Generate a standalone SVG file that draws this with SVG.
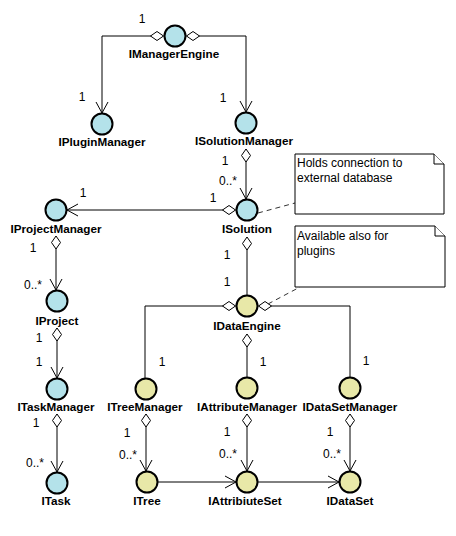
<svg xmlns="http://www.w3.org/2000/svg" width="456" height="536" viewBox="0 0 456 536">
<style>
.b{fill:#b4e2ea;stroke:#000;stroke-width:2}
.y{fill:#e8e8a8;stroke:#000;stroke-width:2}
.lbl{font-family:"Liberation Sans",Arial,sans-serif;font-size:11.7px;font-weight:bold;text-anchor:middle;fill:#000}
.m{font-family:"Liberation Sans",Arial,sans-serif;font-size:12px;text-anchor:middle;fill:#000}
.nt{font-family:"Liberation Sans",Arial,sans-serif;font-size:12px;fill:#000}
.c{fill:none;stroke:#000;stroke-width:1}
.d{fill:none;stroke:#333;stroke-width:1;stroke-dasharray:5,4}
.note{fill:#fff;stroke:#000;stroke-width:1}
</style>
<defs>
<marker id="dia" markerUnits="userSpaceOnUse" orient="auto" refX="0" refY="0" markerWidth="1" markerHeight="1" overflow="visible">
<path d="M0,0 L6.5,-4.5 L13,0 L6.5,4.5 Z" fill="#fff" stroke="#000" stroke-width="1"/>
</marker>
<marker id="arr" markerUnits="userSpaceOnUse" orient="auto" refX="0" refY="0" markerWidth="1" markerHeight="1" overflow="visible">
<path d="M-11,-6 L0,0 L-11,6" fill="none" stroke="#000" stroke-width="1"/>
</marker>
</defs>
<g id="connectors">
<path class="c" d="M163.5,36 L102,36 L102,113" marker-start="url(#dia)" marker-end="url(#arr)"/>
<path class="c" d="M186.5,36 L246,36 L246,112" marker-start="url(#dia)" marker-end="url(#arr)"/>
<path class="c" d="M246,149 L246,199" marker-start="url(#dia)" marker-end="url(#arr)"/>
<path class="c" d="M235.5,210 L67,210" marker-start="url(#dia)" marker-end="url(#arr)"/>
<path class="c" d="M56,236 L56,290" marker-start="url(#dia)" marker-end="url(#arr)"/>
<path class="c" d="M57,328 L57,378" marker-start="url(#dia)" marker-end="url(#arr)"/>
<path class="c" d="M57,414 L57,472" marker-start="url(#dia)" marker-end="url(#arr)"/>
<path class="c" d="M247,237 L247,295" marker-start="url(#dia)"/>
<path class="c" d="M235.5,306 L145,306 L145,378" marker-start="url(#dia)"/>
<path class="c" d="M247,334 L247,377" marker-start="url(#dia)"/>
<path class="c" d="M258.5,306 L350,306 L350,377" marker-start="url(#dia)"/>
<path class="c" d="M146,414 L146,471" marker-start="url(#dia)" marker-end="url(#arr)"/>
<path class="c" d="M247,414 L247,471" marker-start="url(#dia)" marker-end="url(#arr)"/>
<path class="c" d="M350,414 L350,471" marker-start="url(#dia)" marker-end="url(#arr)"/>
<path class="c" d="M158,482 L236,482" marker-end="url(#arr)"/>
<path class="c" d="M258,482 L339,482" marker-end="url(#arr)"/>
<path class="d" d="M258,213 L295,203"/>
<path class="d" d="M268,304 L300,287"/>
</g>
<g id="note1">
<path class="note" d="M295,154 L434,154 L444,164 L444,214 L295,214 Z"/>
<path class="note" d="M434,154 L434,164 L444,164"/>
<text class="nt" x="297" y="167">Holds connection to</text>
<text class="nt" x="297" y="182">external database</text>
</g>
<g id="note2">
<path class="note" d="M295,226 L435,226 L445,236 L445,287 L295,287 Z"/>
<path class="note" d="M435,226 L435,236 L445,236"/>
<text class="nt" x="297" y="240">Available also for</text>
<text class="nt" x="297" y="255">plugins</text>
</g>
<g id="IManagerEngine"><circle class="b" cx="175" cy="36" r="10.5"/><text class="lbl" x="174" y="58">IManagerEngine</text></g>
<g id="IPluginManager"><circle class="b" cx="102" cy="124" r="10.5"/><text class="lbl" x="102" y="146">IPluginManager</text></g>
<g id="ISolutionManager"><circle class="b" cx="246" cy="123" r="10.5"/><text class="lbl" x="244" y="145">ISolutionManager</text></g>
<g id="ISolution"><circle class="b" cx="247" cy="210" r="10.5"/><text class="lbl" x="247" y="233">ISolution</text></g>
<g id="IProjectManager"><circle class="b" cx="56" cy="210" r="10.5"/><text class="lbl" x="56" y="233">IProjectManager</text></g>
<g id="IProject"><circle class="b" cx="57" cy="301" r="10.5"/><text class="lbl" x="57" y="325">IProject</text></g>
<g id="ITaskManager"><circle class="b" cx="57" cy="389" r="10.5"/><text class="lbl" x="56" y="411">ITaskManager</text></g>
<g id="ITask"><circle class="b" cx="57" cy="483" r="10.5"/><text class="lbl" x="56" y="505">ITask</text></g>
<g id="IDataEngine"><circle class="y" cx="247" cy="306" r="10.5"/><text class="lbl" x="247" y="330">IDataEngine</text></g>
<g id="ITreeManager"><circle class="y" cx="146" cy="389" r="10.5"/><text class="lbl" x="145" y="411">ITreeManager</text></g>
<g id="IAttributeManager"><circle class="y" cx="247" cy="388" r="10.5"/><text class="lbl" x="247" y="411">IAttributeManager</text></g>
<g id="IDataSetManager"><circle class="y" cx="350" cy="388" r="10.5"/><text class="lbl" x="350" y="411">IDataSetManager</text></g>
<g id="ITree"><circle class="y" cx="147" cy="482" r="10.5"/><text class="lbl" x="147" y="505">ITree</text></g>
<g id="IAttribiuteSet"><circle class="y" cx="247" cy="482" r="10.5"/><text class="lbl" x="245" y="505">IAttribiuteSet</text></g>
<g id="IDataSet"><circle class="y" cx="350" cy="482" r="10.5"/><text class="lbl" x="350" y="505">IDataSet</text></g>
<g id="multiplicities">
<text class="m" x="142" y="23">1</text>
<text class="m" x="82" y="101">1</text>
<text class="m" x="223" y="102">1</text>
<text class="m" x="225" y="165">1</text>
<text class="m" x="228" y="185">0..*</text>
<text class="m" x="213" y="202">1</text>
<text class="m" x="83" y="197">1</text>
<text class="m" x="33" y="252">1</text>
<text class="m" x="33" y="289">0..*</text>
<text class="m" x="227" y="259">1</text>
<text class="m" x="227" y="286">1</text>
<text class="m" x="39" y="342">1</text>
<text class="m" x="39" y="366">1</text>
<text class="m" x="36" y="427">1</text>
<text class="m" x="35" y="467">0..*</text>
<text class="m" x="162" y="366">1</text>
<text class="m" x="263" y="366">1</text>
<text class="m" x="366" y="365">1</text>
<text class="m" x="127" y="437">1</text>
<text class="m" x="128" y="459">0..*</text>
<text class="m" x="227" y="436">1</text>
<text class="m" x="228" y="458">0..*</text>
<text class="m" x="330" y="436">1</text>
<text class="m" x="332" y="458">0..*</text>
</g>
</svg>
